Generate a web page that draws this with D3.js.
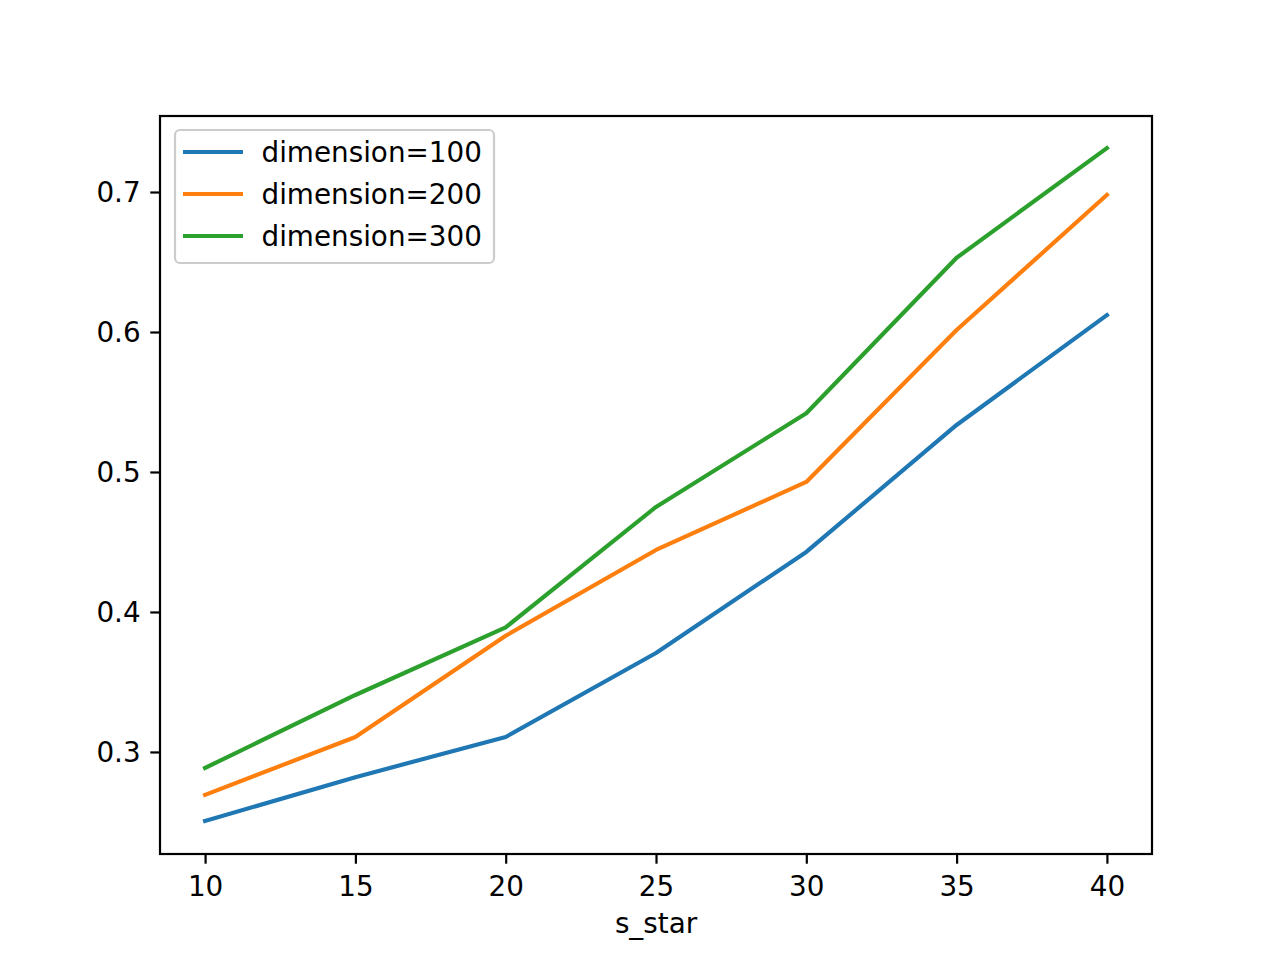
<!DOCTYPE html>
<html><head><meta charset="utf-8">
<script src="https://cdn.jsdelivr.net/npm/d3@7"></script>
<style>body{margin:0;background:#fff}svg{display:block}text{font-family:"DejaVu Sans";}</style>
</head><body>
<svg id="chart" width="1280" height="960"></svg>
<script>
const xValues = [10, 15, 20, 25, 30, 35, 40];
const dim100 = [0.2507, 0.282, 0.3107, 0.3707, 0.4429, 0.5336, 0.6121];
const dim200 = [0.2693, 0.3107, 0.383, 0.4443, 0.4929, 0.6014, 0.6979];
const dim300 = [0.2886, 0.3407, 0.389, 0.475, 0.542, 0.653, 0.7314];
const seriesNames = ["dimension=100", "dimension=200", "dimension=300"];
const seriesColors = ["#1f77b4", "#ff7f0e", "#2ca02c"];
const xTicks = [10, 15, 20, 25, 30, 35, 40];
const yTicks = [0.3, 0.4, 0.5, 0.6, 0.7];
const xLabel = "s_star";

const FS = 27.8;
const svg = d3.select("#chart");
const L = 160, R = 1152, T = 116, B = 854;
const x = d3.scaleLinear().domain([8.5, 41.5]).range([L, R]);
const y = d3.scaleLinear().domain([0.2271, 0.7543]).range([B, T]);

const xAxis = svg.append("g").attr("transform", `translate(0,${B})`)
  .call(d3.axisBottom(x).tickValues(xTicks).tickFormat(d3.format("d")).tickSize(9.7).tickPadding(9.7));
const yAxis = svg.append("g").attr("transform", `translate(${L},0)`)
  .call(d3.axisLeft(y).tickValues(yTicks).tickFormat(d3.format(".1f")).tickSize(9.7).tickPadding(9.7));
[xAxis, yAxis].forEach(a => {
  a.select(".domain").remove();
  a.selectAll(".tick line").attr("stroke", "#000").attr("stroke-width", 2.2);
  a.selectAll(".tick text").attr("font-size", FS).attr("fill", "#000").attr("font-family", "DejaVu Sans");
});
xAxis.selectAll(".tick text").attr("y", 42).attr("dy", 0);
yAxis.selectAll(".tick text").attr("dy", 9.5);

const data = [dim100, dim200, dim300];
const line = d3.line().x((d, i) => x(xValues[i])).y(d => y(d));
data.forEach((s, k) => {
  svg.append("path").datum(s).attr("d", line).attr("fill", "none")
    .attr("stroke", seriesColors[k]).attr("stroke-width", 4.17)
    .attr("stroke-linecap", "square").attr("stroke-linejoin", "round");
});

svg.append("rect").attr("x", L).attr("y", T).attr("width", R - L).attr("height", B - T)
  .attr("fill", "none").attr("stroke", "#000").attr("stroke-width", 2.2);

svg.append("text").attr("x", (L + R) / 2).attr("y", 933).attr("text-anchor", "middle")
  .attr("font-size", FS).text(xLabel);

// legend
const lg = svg.append("g");
lg.append("rect").attr("x", 175).attr("y", 130).attr("width", 319).attr("height", 133)
  .attr("rx", 5).attr("fill", "#fff").attr("fill-opacity", 0.8).attr("stroke", "#cccccc").attr("stroke-width", 2.2);
seriesNames.forEach((n, k) => {
  const yy = 152 + k * 42;
  lg.append("line").attr("x1", 183).attr("x2", 243).attr("y1", yy).attr("y2", yy)
    .attr("stroke", seriesColors[k]).attr("stroke-width", 4.17);
  lg.append("text").attr("x", 261.5).attr("y", yy + 10).attr("font-size", FS).text(n);
});
</script>
</body></html>
